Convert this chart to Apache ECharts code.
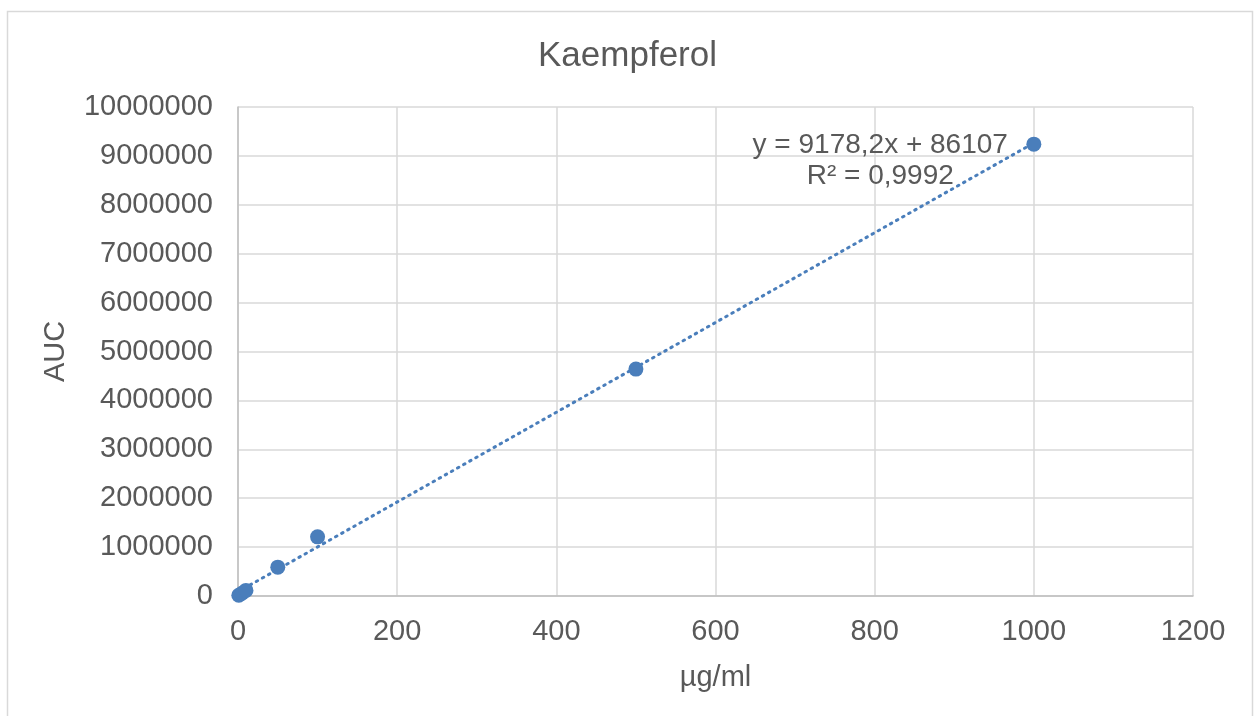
<!DOCTYPE html>
<html>
<head>
<meta charset="utf-8">
<script src="https://cdn.jsdelivr.net/npm/echarts@6/dist/echarts.min.js"></script>
<style>
  html, body { margin: 0; padding: 0; background: #fff; }
  #chart { width: 1255px; height: 716px; }
</style>
</head>
<body>
<div id="chart"></div>
<script>
// Calibration standards: concentration (µg/ml) and measured peak area
const concentrations = [1, 5, 10, 50, 100, 500, 1000];
const areas = [15000, 55000, 115000, 590000, 1210000, 4640000, 9240000];

// Linear fit reported for the standards
const slope = 9178.2;
const intercept = 86107;
const rSquared = '0,9992';
const fitRange = [0, 1000];
// anchor (data units) for the fit equation text
const eqAnchor = [807, 8900000];

const xTicks = { min: 0, max: 1200, interval: 200 };
const yTicks = { min: 0, max: 10000000, interval: 1000000 };

const points = concentrations.map((c, i) => [c, areas[i]]);
const fitLine = fitRange.map(x => [x, slope * x + intercept]);
const eqText = 'y = ' + String(slope).replace('.', ',') + 'x + ' + intercept + '\nR² = ' + rSquared;

const textColor = '#595959';
const gridColor = '#d9d9d9';
const markColor = '#4a7ebb';
const font = 'Liberation Sans, Arial, sans-serif';

const chart = echarts.init(document.getElementById('chart'));
chart.setOption({
  animation: false,
  backgroundColor: '#fff',
  title: {
    text: 'Kaempferol',
    left: 'center',
    top: 34,
    textStyle: { color: textColor, fontSize: 35, fontWeight: 'normal', fontFamily: font }
  },
  graphic: [{
    type: 'rect',
    shape: { x: 7.5, y: 11.5, width: 1245, height: 720 },
    style: { fill: 'none', stroke: gridColor, lineWidth: 1.5 },
    silent: true
  }],
  grid: { left: 238, right: 62, top: 107, bottom: 120 },
  xAxis: {
    type: 'value',
    min: xTicks.min, max: xTicks.max, interval: xTicks.interval,
    name: 'µg/ml',
    nameLocation: 'middle',
    nameGap: 67,
    nameTextStyle: { color: textColor, fontSize: 29, fontFamily: font },
    axisLine: { show: true, onZero: false, lineStyle: { color: '#bfbfbf', width: 1.5 } },
    axisTick: { show: false },
    axisLabel: { color: textColor, fontSize: 29, fontFamily: font, margin: 21, formatter: v => String(v) },
    splitLine: { show: true, lineStyle: { color: gridColor, width: 1.5 } }
  },
  yAxis: {
    type: 'value',
    min: yTicks.min, max: yTicks.max, interval: yTicks.interval,
    name: 'AUC',
    nameLocation: 'middle',
    nameGap: 168,
    nameRotate: 90,
    nameTextStyle: { color: textColor, fontSize: 29, fontFamily: font },
    axisLine: { show: true, lineStyle: { color: '#bfbfbf', width: 1.5 } },
    axisTick: { show: false },
    axisLabel: { color: textColor, fontSize: 29, fontFamily: font, margin: 25, formatter: v => String(v) },
    splitLine: { show: true, lineStyle: { color: gridColor, width: 1.5 } }
  },
  series: [
    {
      type: 'line',
      data: fitLine,
      symbol: 'none',
      lineStyle: { color: markColor, width: 3, type: [1.5, 5.5], cap: 'round' },
      z: 2
    },
    {
      type: 'scatter',
      data: points,
      symbol: 'circle',
      symbolSize: 15,
      itemStyle: { color: markColor, opacity: 1 },
      z: 3
    },
    {
      // fit equation and R² text
      type: 'scatter',
      data: [eqAnchor],
      symbolSize: 0,
      silent: true,
      z: 4,
      itemStyle: { opacity: 1 },
      label: {
        show: true,
        position: 'inside',
        formatter: eqText,
        color: textColor,
        fontSize: 28,
        fontFamily: font,
        lineHeight: 31,
        align: 'center',
        verticalAlign: 'middle'
      }
    }
  ]
});
</script>
</body>
</html>
